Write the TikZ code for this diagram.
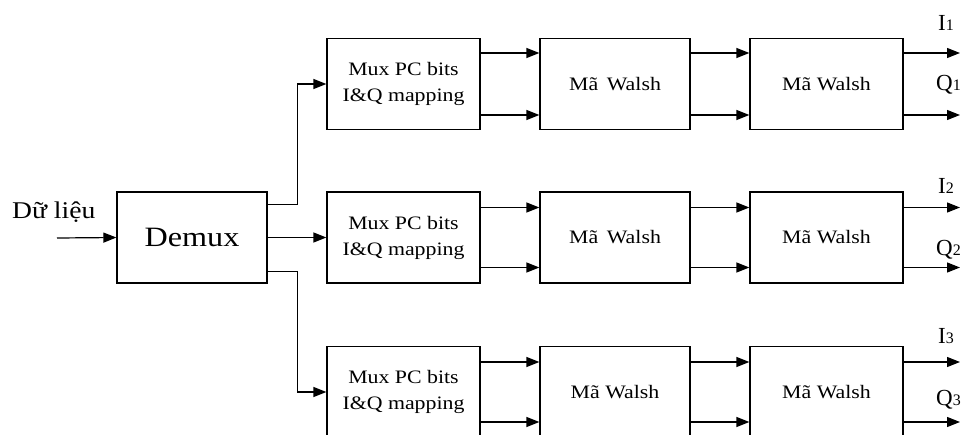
\documentclass[tikz,border=0pt]{standalone}
\usepackage{fontspec}
\setmainfont{Liberation Serif}
\newfontfamily\boxfont[FakeStretch=1.15]{Liberation Serif}
\usetikzlibrary{arrows.meta}
\tikzset{
  blk/.style={draw, line width=1.2pt, rectangle, inner sep=0pt},
  muxbox/.style={blk, minimum width=153pt, minimum height=91pt, align=center,
    font=\boxfont\fontsize{19}{26}\selectfont},
  walshbox/.style={blk, minimum width=150pt, minimum height=91pt,
    font=\boxfont\fontsize{19}{26}\selectfont},
  walshboxb/.style={blk, minimum width=153pt, minimum height=91pt,
    font=\boxfont\fontsize{19}{26}\selectfont},
  arr/.style={line width=1.2pt, -{Triangle[length=13pt,width=10pt]}},
  lbl/.style={anchor=base west, inner sep=0pt, font=\fontsize{23}{24}\selectfont},
}
\newcommand{\sub}[1]{{\fontsize{16}{16}\selectfont #1}}
\begin{document}
\begin{tikzpicture}[x=1pt,y=-1pt]
\useasboundingbox (0,0) rectangle (972,434);
\clip (0,0) rectangle (972,434);
% Demux
\node[blk, minimum width=150pt, minimum height=91pt, font=\boxfont\fontsize{28}{30}\selectfont] (dm) at (192,237.5) {Demux};
\node[anchor=base west, inner sep=0pt, font=\boxfont\fontsize{24}{26}\selectfont] (inl) at (12,218) {Dữ liệu};
\coordinate (in) at (57,238);
\draw[arr] (in) -- (dm.west);
% Row boxes
\node[muxbox] (m1) at (403.5,84) {Mux PC bits\\I\&Q mapping};
\node[muxbox] (m2) at (403.5,237.5) {Mux PC bits\\I\&Q mapping};
\node[muxbox] (m3) at (403.5,392) {Mux PC bits\\I\&Q mapping};
\node[walshbox] (a1) at (615,84) {Mã\, Walsh};
\node[walshbox] (a2) at (615,237.5) {Mã\, Walsh};
\node[walshbox] (a3) at (615,392) {Mã Walsh};
\node[walshboxb] (b1) at (826.5,84) {Mã Walsh};
\node[walshboxb] (b2) at (826.5,237.5) {Mã Walsh};
\node[walshboxb] (b3) at (826.5,392) {Mã Walsh};
% Demux outputs
\draw[arr] ([yshift=33pt]dm.east) -- ++(30pt,0) |- (m1.west);
\draw[arr] (dm.east) -- (m2.west);
\draw[arr] ([yshift=-34pt]dm.east) -- ++(30pt,0) |- (m3.west);
% Row connectors
\foreach \r/\s in {1/31,2/30,3/30}{
  \draw[arr] ([yshift=\s pt]m\r.east) -- ([yshift=\s pt]a\r.west);
  \draw[arr] ([yshift=-\s pt]m\r.east) -- ([yshift=-\s pt]a\r.west);
  \draw[arr] ([yshift=\s pt]a\r.east) -- ([yshift=\s pt]b\r.west);
  \draw[arr] ([yshift=-\s pt]a\r.east) -- ([yshift=-\s pt]b\r.west);
}
% Outputs
\coordinate (oi1) at (960,53);  \coordinate (oq1) at (960,115);
\coordinate (oi2) at (960,207.5); \coordinate (oq2) at (960,267.5);
\coordinate (oi3) at (960,362); \coordinate (oq3) at (960,422);
\draw[arr] (b1.east |- oi1) -- (oi1);
\draw[arr] (b1.east |- oq1) -- (oq1);
\draw[arr] (b2.east |- oi2) -- (oi2);
\draw[arr] (b2.east |- oq2) -- (oq2);
\draw[arr] (b3.east |- oi3) -- (oi3);
\draw[arr] (b3.east |- oq3) -- (oq3);
% Labels
\node[lbl] (li1) at (938,30) {I\sub{1}};
\node[lbl] (lq1) at (936,90) {Q\sub{1}};
\node[lbl] (li2) at (938,193) {I\sub{2}};
\node[lbl] (lq2) at (936,255) {Q\sub{2}};
\node[lbl] (li3) at (938,343) {I\sub{3}};
\node[lbl] (lq3) at (936,405) {Q\sub{3}};
\end{tikzpicture}
\end{document}
